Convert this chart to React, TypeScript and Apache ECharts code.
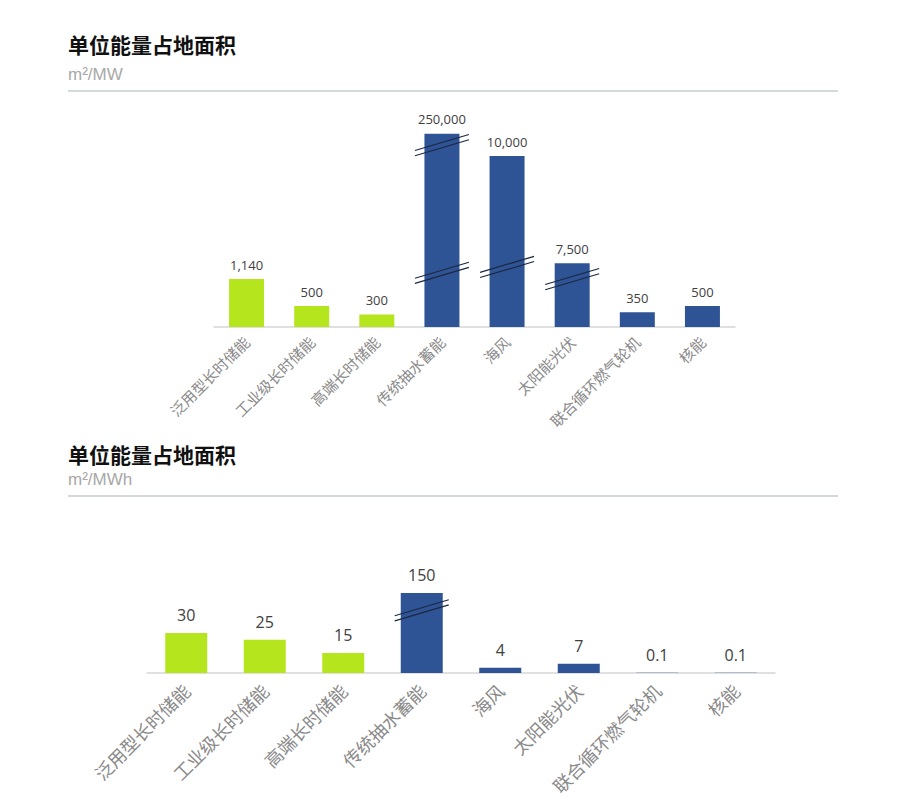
import React, { useEffect, useRef } from "react";
import * as echarts from "echarts";

const categories = [
  "泛用型长时储能",
  "工业级长时储能",
  "高端长时储能",
  "传统抽水蓄能",
  "海风",
  "太阳能光伏",
  "联合循环燃气轮机",
  "核能",
];

// Chart 1: m²/MW — true values (labels) and drawn heights on the broken axis
const powerValues = [1140, 500, 300, 250000, 10000, 7500, 350, 500];
const powerDrawn = [1140, 500, 300, 4600, 4070, 1520, 350, 500];
const powerBreaks = [
  [3, 4330],
  [3, 1290],
  [4, 1430],
  [5, 1140],
];

// Chart 2: m²/MWh
const energyValues = [30, 25, 15, 150, 4, 7, 0.1, 0.1];
const energyDrawn = [30, 25, 15, 60, 4, 7, 0.1, 0.1];
const energyBreaks = [[3, 47]];

const groupIsStorage = [true, true, true, false, false, false, false, false];

const GREEN = "#b5e51d";
const BLUE = "#2f5496";
const CJK = '"Noto Sans CJK SC", "Noto Sans", sans-serif';
const NUM = '"Open Sans", "Noto Sans", sans-serif';

const fmt = (v: number) => v.toLocaleString("en-US");

const breakRender = (params: any, api: any) => {
  const p = api.coord([api.value(0), api.value(1)]);
  const half = 27;
  const rise = 8;
  const gap = 2.6;
  const mk = (off: number) => ({
    type: "line",
    shape: { x1: p[0] - half, y1: p[1] + rise + off, x2: p[0] + half, y2: p[1] - rise + off },
    style: { stroke: "#1c2740", lineWidth: 1.2 },
  });
  return { type: "group", children: [mk(-gap), mk(gap)] };
};

export default function App() {
  const ref = useRef<HTMLDivElement>(null);
  useEffect(() => {
    if (!ref.current) return;
    const chart = echarts.init(ref.current, undefined, { renderer: "svg" });
    const xAxisBase = (gridIndex: number, fontSize: number, margin: number) => ({
      type: "category",
      gridIndex,
      data: categories,
      axisTick: { show: false },
      axisLine: { lineStyle: { color: "#d6d6d6", width: 1.5 } },
      axisLabel: {
        rotate: 45,
        interval: 0,
        margin,
        fontSize,
        color: "#8a8a8a",
        fontFamily: CJK,
      },
    });
    chart.setOption({
      animation: false,
      backgroundColor: "#ffffff",
      graphic: [
        { type: "text", left: 68, top: 33, style: { text: "单位能量占地面积", fontSize: 21, fontWeight: "bold", fill: "#111", fontFamily: CJK } },
        { type: "text", left: 68, top: 66, style: { text: "m²/MW", fontSize: 17, fill: "#a8a8a8", fontFamily: '"Liberation Sans", Arial, sans-serif' } },
        { type: "line", shape: { x1: 68, y1: 91, x2: 838, y2: 91 }, style: { stroke: "#d3dbd7", lineWidth: 2 } },
        { type: "text", left: 68, top: 443, style: { text: "单位能量占地面积", fontSize: 21, fontWeight: "bold", fill: "#111", fontFamily: CJK } },
        { type: "text", left: 68, top: 471, style: { text: "m²/MWh", fontSize: 17, fill: "#a8a8a8", fontFamily: '"Liberation Sans", Arial, sans-serif' } },
        { type: "line", shape: { x1: 68, y1: 496, x2: 838, y2: 496 }, style: { stroke: "#d3dbd7", lineWidth: 2 } },
      ],
      grid: [
        { left: 214, top: 117, width: 521, height: 210 },
        { left: 147, top: 573, width: 628, height: 100 },
      ],
      xAxis: [xAxisBase(0, 15, 12), xAxisBase(1, 18, 14)],
      yAxis: [
        { type: "value", gridIndex: 0, min: 0, max: 5000, show: false },
        { type: "value", gridIndex: 1, min: 0, max: 75, show: false },
      ],
      series: [
        {
          type: "bar",
          xAxisIndex: 0,
          yAxisIndex: 0,
          barWidth: 35,
          data: powerDrawn.map((v, i) => ({
            value: v,
            itemStyle: { color: groupIsStorage[i] ? GREEN : BLUE },
          })),
          label: {
            show: true,
            position: "top",
            distance: 8,
            fontSize: 13,
            color: "#404040",
            fontFamily: NUM,
            formatter: (p: any) => fmt(powerValues[p.dataIndex]),
          },
        },
        {
          type: "custom",
          xAxisIndex: 0,
          yAxisIndex: 0,
          renderItem: breakRender,
          data: powerBreaks,
          z: 10,
        },
        {
          type: "bar",
          xAxisIndex: 1,
          yAxisIndex: 1,
          barWidth: 42,
          data: energyDrawn.map((v, i) => ({
            value: v,
            itemStyle: { color: groupIsStorage[i] ? GREEN : BLUE },
          })),
          label: {
            show: true,
            position: "top",
            distance: 10,
            fontSize: 16,
            color: "#404040",
            fontFamily: NUM,
            formatter: (p: any) => fmt(energyValues[p.dataIndex]),
          },
        },
        {
          type: "custom",
          xAxisIndex: 1,
          yAxisIndex: 1,
          renderItem: breakRender,
          data: energyBreaks,
          z: 10,
        },
      ],
    });
    return () => chart.dispose();
  }, []);
  return (
    <div
      ref={ref}
      style={{ position: "absolute", left: 0, top: 0, width: 900, height: 802 }}
    />
  );
}
